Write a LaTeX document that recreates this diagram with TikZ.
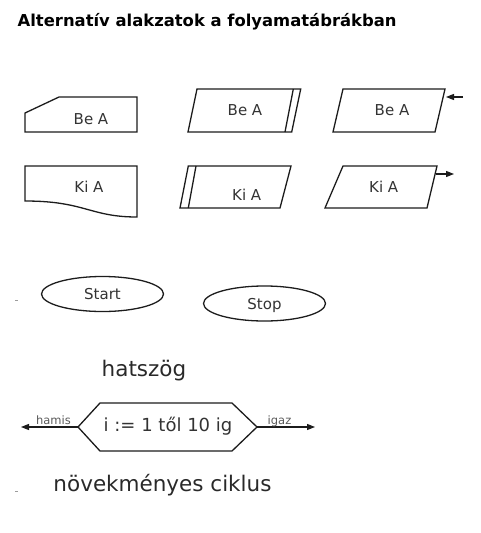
\documentclass[tikz,border=0pt]{standalone}
\usepackage{fontspec}
\setmainfont{DejaVu Sans}
\usetikzlibrary{arrows.meta, positioning, shapes.geometric, calc}
\definecolor{cline}{HTML}{1C1C1C}
\definecolor{ctext}{HTML}{333333}
\definecolor{cgrey}{HTML}{5A5A5A}
\tikzset{
  every picture/.style={line width=1.3pt},
  outline/.style={draw=cline, line join=miter},
  txt/.style={text=ctext, font=\fontsize{15}{17}\selectfont, anchor=base, inner sep=0pt},
  oval/.style={ellipse, draw=cline, minimum width=122pt, minimum height=35pt, inner sep=0pt,
    text=ctext, font=\fontsize{15}{17}\selectfont, text height=11pt, text depth=0pt},
  arrow/.style={-{Triangle[length=8pt, width=6pt]}, draw=cline, line width=1.1pt},
  title/.style={font=\bfseries\fontsize{16.4}{19}\selectfont, anchor=base west, inner sep=0pt},
  big/.style={text=ctext!80!black, font=\fontsize{21.5}{24}\selectfont, anchor=base, inner sep=0pt},
  tag/.style={text=cgrey, font=\fontsize{11.5}{13}\selectfont, anchor=base, inner sep=0pt},
}

\begin{document}
\begin{tikzpicture}[x=1pt, y=-1pt]
  \useasboundingbox (0,0) rectangle (480,533);
  \node[title] (ttl) at (17,26.5) {Alternatív alakzatok a folyamatábrákban};

  % Be A / Ki A
  \draw[outline] (59,97) -- (137,97) -- (137,132) -- (25,132) -- (25,113) -- cycle;
  \node[txt] (be1) at (91,124) {Be A};
  \draw[outline] (197,89) -- (300.7,89) -- (291.7,132) -- (188,132) -- cycle;
  \draw[outline] (293.3,89) -- (285,132);
  \node[txt] (be2) at (245,115) {Be A};
  \draw[outline] (343,89) -- (445,89) -- (435,132) -- (333,132) -- cycle;
  \node[txt] (be3) at (392,115) {Be A};
  \coordinate (be3from) at (463,97);
  \coordinate (be3to) at (446,97);
  \draw[arrow] (be3from) -- (be3to);

  \draw[outline] (25,166) -- (137,166) -- (137,217)
    .. controls (90,217) and (85,201) .. (25,201) -- cycle;
  \node[txt] (ki1) at (89,192) {Ki A};
  \draw[outline] (188.3,166) -- (291,166) -- (280,208) -- (180,208) -- cycle;
  \draw[outline] (196,166) -- (188.3,208);
  \node[txt] (ki2) at (246.7,200.5) {Ki A};
  \draw[outline] (343,166) -- (437,166) -- (427,208) -- (325,208) -- cycle;
  \node[txt] (ki3) at (383.7,192) {Ki A};
  \coordinate (ki3from) at (435.5,174);
  \coordinate (ki3to) at (454,174);
  \draw[arrow] (ki3from) -- (ki3to);

  % Start / Stop
  \draw[cgrey!60, line width=0.8pt] (15,300) -- (18,300);
  \node[oval] (start) at (102.5,294) {Start};
  \node[oval] (stop) at (264.5,303.5) {Stop};

  \node[big] (hat) at (144,376.7) {hatszög};

  % hatszög
  \coordinate (hxl) at (78,427);
  \coordinate (hxr) at (257,427);
  \draw[outline] (hxl) -- (100,403) -- (232,403) -- (hxr) -- (232,451) -- (100,451) -- cycle;
  \node[txt, font=\fontsize{18}{20}\selectfont] (cikl) at (168,431.7) {i := 1 től 10 ig};
  \coordinate (hamisend) at (21,427);
  \coordinate (igazend) at (315,427);
  \draw[arrow] (hxl) -- (hamisend);
  \draw[arrow] (hxr) -- (igazend);
  \node[tag] (hamis) at (53.5,424.5) {hamis};
  \node[tag] (igaz) at (279.5,424.5) {igaz};

  \draw[cgrey!60, line width=0.8pt] (15,491) -- (18,491);
  \node[big] (novek) at (162.5,491.5) {növekményes ciklus};
\end{tikzpicture}
\end{document}
